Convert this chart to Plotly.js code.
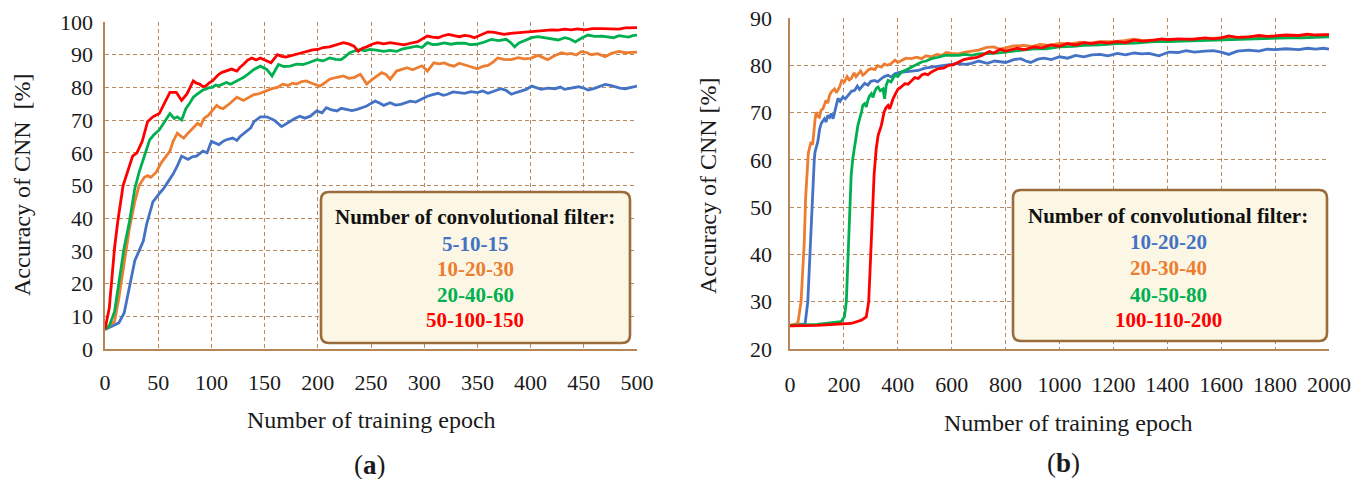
<!DOCTYPE html>
<html>
<head>
<meta charset="utf-8">
<script src="https://cdn.plot.ly/plotly-3.0.1.min.js"></script>
<style>html,body{margin:0;padding:0;background:#fff;}#chart{width:1367px;height:479px;}
.gridlayer path{shape-rendering:crispEdges;}</style>
</head>
<body>
<div id="chart"></div>
<script>
// ---------- Panel (a) data ----------
const seriesNamesA = ["5-10-15", "10-20-30", "20-40-60", "50-100-150"];
const epochA_blue = [0,7,13,18,23,28,32,36,39,45,51,55,58,64,68,72,75,78,82,86,92,96,100,104,107,111,114,120,124,127,133,137,140,146,152,159,166,170,174,178,183,188,193,199,204,208,213,218,222,227,232,237,242,246,250,254,258,262,268,273,278,283,287,292,297,303,308,313,318,322,327,331,338,344,350,355,360,366,372,377,382,387,391,396,401,405,410,416,423,428,432,438,445,450,454,460,465,470,475,479,484,489,495,500];
const accA_blue = [6,7,8,11,18.5,27,30,33,38,45,47.5,49,50.5,53.5,56,59,58.5,58,58.8,59,60.5,60,63.5,62.8,62.5,63.5,64,64.5,63.8,65,66.5,67.6,69.5,71,71,70,68,68.8,69.7,70.4,71.2,70.6,71.2,72.8,72.2,73.8,73.1,72.8,73.6,73.3,72.9,73.3,73.9,74.3,75.1,75.8,75.2,74.5,75.3,74.6,74.8,75.4,75.8,75.5,76.3,77.3,77.8,78.2,77.6,77.9,78.6,78.4,78.2,78.7,78.4,78.9,78.2,78.9,79.6,79.1,77.9,78.5,78.9,79.4,80.4,79.9,79.4,79.8,79.6,80.1,79.4,79.8,80.2,79.8,79.2,79.7,80.3,80.9,80.6,80.2,79.8,79.6,80.1,80.4];
const epochA_orange = [0,4,9,13,18,23,28,32,37,40,43,48,53,58,61,64,68,71,74,78,81,84,87,90,93,97,100,105,108,111,117,121,124,130,136,140,144,148,152,157,162,167,172,176,180,185,189,195,202,207,211,218,224,229,234,240,246,251,256,260,264,268,274,279,284,289,293,298,303,309,314,319,323,328,333,338,343,350,355,360,365,369,375,382,388,394,400,407,411,416,422,429,434,438,443,448,453,457,463,470,476,483,489,495,500];
const accA_orange = [6,7,8.5,15.5,27,37,45,50,52.5,53,52.5,54,57,59,60.5,63.5,66,65.2,64.5,66,67,68.2,69,68.3,70.5,71.4,72.5,74.5,73.8,73.5,75,76.3,77,76,77,77.8,78,78.6,79,79.6,80,81,80.6,81.3,81,81.8,82,81.2,80.4,81.5,82.5,83.1,83.5,82.8,83,84,81,82.4,83.5,84.5,84,82.5,85,85.6,86,85.4,86,86.6,85,87.5,87.2,87.5,86.9,86.5,87.4,87,86.4,85.7,86.4,86.7,87.8,89,88.6,88.5,89.1,88.7,88.9,89.8,89.3,88.5,89.6,90.6,90.2,90.4,89.9,91,90.6,90,90.3,89.4,90.4,91,90.6,90.8,90.8];
const epochA_green = [0,4,9,13,18,23,28,32,37,42,46,51,56,61,65,68,72,76,80,83,86,89,92,95,98,101,104,107,111,114,118,124,127,130,135,140,146,152,157,163,168,174,180,186,192,199,205,211,217,222,226,230,235,240,244,249,255,262,268,274,279,284,289,293,298,303,308,313,319,325,331,338,343,349,356,363,370,377,381,385,389,393,397,401,407,413,419,426,432,437,442,448,454,460,467,473,478,483,488,492,496,500];
const accA_green = [6,7,11.5,20.5,31,39,49,54,59,64,65.5,67,69.5,72,70.5,71,70,73.5,75.4,77,77.8,78.5,79.2,79.5,79.9,80,80.7,80.5,81.2,81.5,81,82,82.6,83,84.2,85.5,86.5,85.5,83.5,87,86.4,86.5,87.1,87,87.6,88.5,88.1,89,88.6,88.5,89.5,90.6,91.2,91.6,91.2,91.6,91.4,91,91.3,91,91.7,92,92.4,92.6,92.2,93.7,93.1,93.2,93.6,93.2,93.5,93.5,93.1,93.2,93.8,94.7,94.3,94.7,93.8,92.4,93.6,94.2,94.8,95.2,95.5,95.2,95,94.5,95.2,94.8,93.9,95.1,96,95.6,95.7,95.4,95.2,95.8,95.7,95.4,95.8,96];
const epochA_red = [0,4,9,12,17,21,26,30,35,40,45,51,56,61,67,72,77,80,83,86,89,92,95,98,101,104,107,110,114,119,124,127,130,134,138,142,146,151,156,162,166,170,175,180,185,190,195,200,205,211,216,220,224,229,234,238,242,246,251,256,262,268,274,281,287,294,299,303,308,313,318,323,328,333,338,343,347,352,356,360,366,375,381,388,394,400,407,413,420,426,432,438,444,451,458,467,475,483,489,495,500];
const accA_red = [6,12.5,31,39,50,54,59,60,63.5,69.5,71,72,75.5,78.5,78.5,76,78,80.2,82,81.3,81,80.2,80.5,81.4,82,83,84,84.6,85,85.6,85,86.2,87,88.3,89,88.4,89,88.2,87.5,90,89.5,89.3,89.8,90.3,90.6,91,91.5,91.6,92.2,92.4,92.9,93.2,93.7,93.3,92.6,91,92,92.4,93.2,93.7,93.3,93.7,93.4,93,93.5,94,95,95.7,95.4,95.2,95.8,96.2,95.8,95.5,95.9,95.7,95.2,95.8,96.5,97,96.8,96.2,96.5,96.7,96.9,97,97.3,97.4,97.6,97.5,97.8,97.6,97.9,97.6,98,98,97.8,97.8,98.2,98.3,98.3];

// ---------- Panel (b) data ----------
const seriesNamesB = ["10-20-20", "20-30-40", "40-50-80", "100-110-200"];
const epochB_blue = [0,56,66,76,84,90,93,103,110,116,122,128,134,140,147,153,160,165,172,178,186,196,205,215,228,240,250,258,265,277,289,300,314,325,339,350,364,376,389,405,426,450,476,500,525,550,575,600,625,650,674,700,732,760,800,830,856,875,893,920,943,970,1000,1030,1060,1090,1120,1151,1180,1215,1245,1277,1305,1332,1369,1406,1440,1470,1500,1540,1570,1600,1628,1660,1702,1740,1770,1800,1840,1888,1920,1950,1980,2000];
const accB_blue = [25,25.3,30,42.7,55.4,60,61.7,63.8,66.5,67.7,68.2,68.7,68,69.4,69,69.8,68.7,70.1,71.5,73,72.4,73.3,72.9,73.7,74.5,74.7,75.6,74.9,75.4,76.2,75.8,76.6,76.8,76.5,77.2,77.6,77.9,77.5,78.2,78.5,78.6,78.7,78.9,79.4,79.6,79.8,80,80.1,80.4,80.2,80.4,80.9,80.4,80.9,80.6,81.2,81.4,80.9,80.6,81.3,81.5,81.2,81.8,81.5,82.1,81.8,82.2,82.3,82,82.5,82.2,82.6,82.4,82.5,82,82.8,82.7,83.1,82.8,83,83.1,82.8,82.3,83,83.2,83,83.4,83.3,83.5,83.3,83.6,83.4,83.6,83.4];
const epochB_orange = [0,29,41,53,58,63,68,72,78,84,88,93,97,103,109,115,122,128,134,140,147,155,165,172,184,192,202,212,220,227,238,245,252,262,270,277,290,302,315,325,339,350,362,376,390,400,414,430,451,470,488,505,525,545,563,580,600,625,650,675,700,730,756,780,800,830,868,900,928,960,1000,1040,1077,1110,1151,1200,1240,1277,1310,1352,1400,1450,1500,1550,1600,1650,1700,1750,1800,1850,1900,1950,2000];
const accB_orange = [25,25.4,30,42.7,52,56.8,61.5,62.4,63.8,63.2,66.6,68.5,70.1,69.2,69,70.5,70.8,71.8,72.6,72,73.7,74.5,75,74.2,75.4,76.8,76.5,77.6,76.9,77.2,78.4,77.6,78.2,78.8,77.9,78.2,79,79.3,79.1,79.9,79.6,80.3,80,80.4,81.1,80.6,81,81.5,81.4,81.7,81.4,82,81.8,82.3,82.1,82.7,82.5,82.4,82.8,83,83.2,83.8,83.9,83.4,83.7,84.1,84.2,84,84.4,84.2,84.6,84.5,84.9,84.7,85,85,85.2,85.5,85.2,85.3,85.5,85.4,85.6,85.7,85.8,85.9,86,86.1,86.2,86.2,86.3,86.3,86.4];
const epochB_green = [0,100,190,202,209,215,221,227,233,242,252,265,270,277,283,289,295,302,308,314,320,327,335,345,351,357,364,375,389,400,414,430,451,470,488,505,525,550,575,600,625,650,674,700,756,800,850,905,950,1000,1050,1092,1150,1215,1280,1352,1400,1450,1500,1600,1650,1700,1750,1800,1850,1900,1950,2000];
const accB_green = [25,25.2,25.8,26.8,30,39.2,49.7,56.8,60.3,63.8,67.3,70.1,71.5,71.9,71.2,72.6,73.5,74,73.2,74.4,75.1,75.4,74.6,75,72.9,75.8,76.8,76.5,77.9,77.6,78.6,79,79.6,80.2,80.7,80.9,81.4,81.7,82.1,82.1,82.1,82.3,82.1,82.4,82.5,82.8,83.2,83.5,83.5,83.9,84,84.2,84.3,84.6,84.7,85,85,85.1,85.2,85.3,85.5,85.5,85.6,85.7,85.8,85.8,85.9,86];
const epochB_red = [0,100,227,265,283,292,299,305,312,320,327,339,349,356,364,370,376,383,389,395,401,410,426,438,451,463,476,490,501,512,525,537,550,570,588,605,625,645,662,690,712,740,756,780,800,843,870,905,935,967,1000,1030,1060,1092,1120,1151,1180,1215,1245,1277,1310,1352,1380,1400,1440,1493,1540,1570,1600,1628,1660,1702,1740,1770,1800,1840,1888,1920,1950,2000];
const accB_red = [24.9,25,25.4,26.1,26.8,30,39.2,48.3,56.8,62.4,65.2,67.3,70.1,71,71.5,70.8,71.9,73,73.7,74.5,75,75.3,76.1,76,76.8,77.4,77.2,78,78.2,78,78.6,79,79.3,79.4,80,80.1,80.7,81.2,81.4,81.6,82.1,82.9,82.6,83.4,83,83.6,83.3,83.9,83.7,84.3,84,84.6,84.3,84.8,84.6,84.9,84.7,85,84.8,85.3,85.1,85.3,85.6,85.4,85.6,85.5,85.8,85.6,85.8,86.2,85.9,86,86.3,86.1,86.2,86.4,86.3,86.6,86.4,86.5];

const xTicksA = [0,50,100,150,200,250,300,350,400,450,500];
const yTicksA = [0,10,20,30,40,50,60,70,80,90,100];
const xTicksB = [0,200,400,600,800,1000,1200,1400,1600,1800,2000];
const yTicksB = [20,30,40,50,60,70,80,90];

const legendTitle = "Number of convolutional filter:";
const xTitle = "Number of training epoch";
const yTitleA = "Accuracy of CNN  [%]";
const yTitleB = "Accuracy of CNN [%]";

// ---------- styling ----------
const W = 1367, H = 479;
const colors = ["#4472c4", "#ed7d31", "#00b050", "#ff0000"];
const FONT = "Liberation Serif, Times New Roman, serif";
const gridColor = "#b98a5e";
const axisColor = "#b58758";

const px = x => x / W;
const py = y => 1 - y / H;

function mk(x, y, i, xa, ya, name) {
  return {x: x, y: y, type: "scatter", mode: "lines", name: name, xaxis: xa, yaxis: ya,
          line: {color: colors[i], width: 2.8}, showlegend: false, hoverinfo: "skip"};
}

const traces = [
  mk(epochA_blue, accA_blue, 0, "x", "y", seriesNamesA[0]),
  mk(epochA_orange, accA_orange, 1, "x", "y", seriesNamesA[1]),
  mk(epochA_green, accA_green, 2, "x", "y", seriesNamesA[2]),
  mk(epochA_red, accA_red, 3, "x", "y", seriesNamesA[3]),
  mk(epochB_blue, accB_blue, 0, "x2", "y2", seriesNamesB[0]),
  mk(epochB_orange, accB_orange, 1, "x2", "y2", seriesNamesB[1]),
  mk(epochB_green, accB_green, 2, "x2", "y2", seriesNamesB[2]),
  mk(epochB_red, accB_red, 3, "x2", "y2", seriesNamesB[3])
];

function axisBase(extra) {
  return Object.assign({
    showgrid: true, gridcolor: gridColor, gridwidth: 1, griddash: "4px,3px",
    showline: true, linecolor: axisColor, linewidth: 1.6, mirror: false,
    zeroline: false, ticks: "", fixedrange: true,
    tickfont: {family: FONT, size: 22, color: "#1a1a1a"}
  }, extra);
}

function rrect(x0, y0, x1, y1, r) {
  const P = (x, y) => px(x).toFixed(5) + "," + py(y).toFixed(5);
  return "M " + P(x0 + r, y0) + " L " + P(x1 - r, y0) + " Q " + P(x1, y0) + " " + P(x1, y0 + r) +
         " L " + P(x1, y1 - r) + " Q " + P(x1, y1) + " " + P(x1 - r, y1) +
         " L " + P(x0 + r, y1) + " Q " + P(x0, y1) + " " + P(x0, y1 - r) +
         " L " + P(x0, y0 + r) + " Q " + P(x0, y0) + " " + P(x0 + r, y0) + " Z";
}

const shapes = [
  {type: "path", xref: "paper", yref: "paper", path: rrect(321, 192, 630, 343, 8),
   fillcolor: "#fbf7e4", line: {color: "#9c6b3c", width: 2.6}, layer: "above"},
  {type: "path", xref: "paper", yref: "paper", path: rrect(1013, 190, 1327, 341, 8),
   fillcolor: "#fbf7e4", line: {color: "#9c6b3c", width: 2.6}, layer: "above"}
];

function ann(text, x, y, opts) {
  return Object.assign({text: text, x: px(x), y: py(y), xref: "paper", yref: "paper",
    showarrow: false, xanchor: "center", yanchor: "middle",
    font: {family: FONT, size: 24, color: "#1a1a1a"}}, opts || {});
}
const legFont = (c) => ({family: FONT, size: 21, color: c});

const annotations = [
  ann(xTitle, 371, 420),
  ann(xTitle, 1068, 423),
  ann(yTitleA, 22, 185, {textangle: -90}),
  ann(yTitleB, 708, 185, {textangle: -90}),
  ann("(<b>a</b>)", 370, 465, {font: {family: FONT, size: 27, color: "#1a1a1a"}}),
  ann("(<b>b</b>)", 1063, 463, {font: {family: FONT, size: 27, color: "#1a1a1a"}}),
  ann("<b>" + legendTitle + "</b>", 475, 217, {font: legFont("#111")}),
  ann("<b>" + seriesNamesA[0] + "</b>", 475, 244, {font: legFont(colors[0])}),
  ann("<b>" + seriesNamesA[1] + "</b>", 475, 269, {font: legFont(colors[1])}),
  ann("<b>" + seriesNamesA[2] + "</b>", 475, 295, {font: legFont(colors[2])}),
  ann("<b>" + seriesNamesA[3] + "</b>", 475, 320, {font: legFont(colors[3])}),
  ann("<b>" + legendTitle + "</b>", 1168, 216, {font: legFont("#111")}),
  ann("<b>" + seriesNamesB[0] + "</b>", 1168, 242, {font: legFont(colors[0])}),
  ann("<b>" + seriesNamesB[1] + "</b>", 1168, 268, {font: legFont(colors[1])}),
  ann("<b>" + seriesNamesB[2] + "</b>", 1168, 295, {font: legFont(colors[2])}),
  ann("<b>" + seriesNamesB[3] + "</b>", 1168, 320, {font: legFont(colors[3])})
];

const layout = {
  width: W, height: H,
  margin: {l: 0, r: 0, t: 0, b: 0},
  paper_bgcolor: "#ffffff", plot_bgcolor: "#ffffff",
  showlegend: false,
  xaxis: axisBase({domain: [px(105), px(637)], range: [0, 500], tickvals: xTicksA, anchor: "y", ticklabelstandoff: 13}),
  yaxis: axisBase({domain: [py(349), py(22)], range: [0, 100], tickvals: yTicksA, anchor: "x", ticklabelstandoff: 6}),
  xaxis2: axisBase({domain: [px(790), px(1329)], range: [0, 2000], tickvals: xTicksB, anchor: "y2", ticklabelstandoff: 15}),
  yaxis2: axisBase({domain: [py(349), py(18)], range: [20, 90], tickvals: yTicksB, anchor: "x2", ticklabelstandoff: 12}),
  shapes: shapes,
  annotations: annotations
};

Plotly.newPlot("chart", traces, layout, {staticPlot: true, displayModeBar: false});
</script>
</body>
</html>
